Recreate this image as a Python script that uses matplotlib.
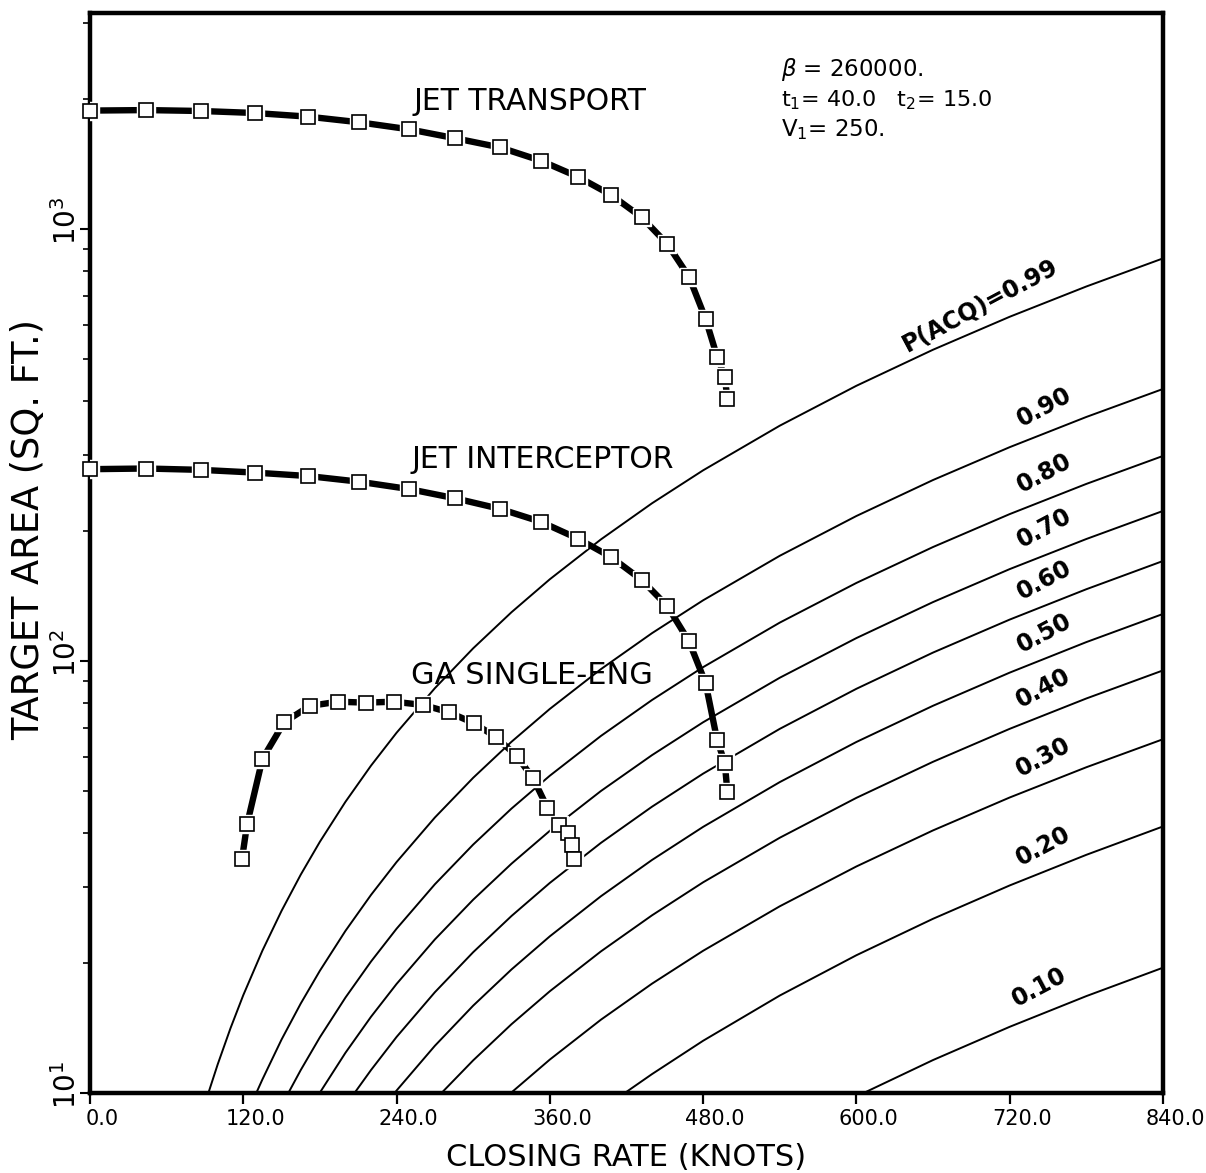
import matplotlib
matplotlib.use("Agg")
import matplotlib.pyplot as plt
from matplotlib.ticker import FixedLocator, NullFormatter
from matplotlib.transforms import offset_copy

plt.rcParams['font.family'] = ['DejaVu Sans']
plt.rcParams['mathtext.fontset'] = 'dejavusans'

# aircraft encounter geometries (closing rate, knots / target area, sq ft)
jet_rate = [0, 44, 87, 129, 171, 211, 250, 286, 321, 353, 382, 408, 432, 452, 469, 482, 491, 497, 499]
jet_transport_area = [1880, 1885, 1876, 1856, 1820, 1766, 1701, 1622, 1545, 1439,
                      1321, 1199, 1064, 923, 775, 619, 506, 455, 404]
jet_interceptor_area = [278, 279, 277, 273, 268, 260, 250, 238, 225, 210,
                        192, 174, 154, 134, 111, 88.8, 65.6, 58.0, 49.8]
ga_rate = [119, 123, 135, 152, 172, 194, 216, 238, 261, 281, 301, 318, 334, 347, 358, 367, 374, 377, 379]
ga_area = [34.8, 41.9, 59.3, 72.1, 78.7, 80.5, 80.1, 80.5, 79.1, 76.1,
           71.7, 66.6, 60.3, 53.5, 45.8, 41.7, 40.0, 37.5, 34.8]

# P(ACQ) contours: rate where area = 10, then area at each grid rate above it
rate_grid = [100, 110, 120, 135, 150, 165, 180, 200, 220, 240, 270, 300, 330, 360,
             400, 440, 480, 540, 600, 660, 720, 780, 840]
p_values = ['0.99', '0.90', '0.80', '0.70', '0.60', '0.50', '0.40', '0.30', '0.20', '0.10']
start_rate = [92.7, 130.2, 155.3, 179.8, 207.1, 238.5, 275.2, 329.5, 418.7, 605.7]
a99 = [11.65, 14.12, 16.84, 21.36, 26.41, 32.02, 38.16, 47.21, 57.24, 68.21, 86.50, 107.0,
       129.7, 154.6, 191.2, 231.8, 276.3, 350.5, 433.6, 525.5, 626.4, 736.1, 855]
a90 = [10.75, 13.30, 16.11, 19.19, 23.73, 28.74, 34.24, 43.42, 53.66, 65.02, 77.46, 95.75,
       116.0, 138.2, 175.2, 216.6, 262.4, 312.6, 367.2, 426.3]
a80 = [11.30, 13.46, 16.63, 20.15, 24.00, 30.42, 37.59, 45.54, 54.26, 67.07, 81.23, 96.78,
       122.7, 151.6, 183.6, 218.8, 257.0, 298.3]
a70 = [10.02, 12.39, 15.01, 17.88, 22.67, 28.02, 33.95, 40.45, 50.01, 60.55, 72.14, 91.46,
       113.0, 136.9, 163.2, 191.6, 222.5]
a60 = [11.30, 13.48, 17.11, 21.18, 25.69, 30.64, 37.93, 46.00, 54.86, 69.65, 86.23, 104.6,
       124.7, 146.6, 170.4]
a50 = [10.13, 12.86, 15.93, 19.32, 23.05, 28.54, 34.63, 41.31, 52.44, 64.95, 78.78, 93.99,
       110.6, 128.5]
a40 = [11.90, 14.43, 17.20, 21.27, 25.78, 30.74, 38.98, 48.22, 58.44, 69.66, 81.89, 95.1]
a30 = [10.03, 11.95, 14.78, 17.91, 21.34, 27.05, 33.45, 40.54, 48.31, 56.76, 65.9]
a20 = [11.06, 13.21, 16.81, 20.84, 25.31, 30.23, 35.59, 41.4]
a10 = [11.92, 14.23, 16.76, 19.5]
contour_areas = [a99, a90, a80, a70, a60, a50, a40, a30, a20, a10]

# where the P(ACQ) labels sit
label_rate = [697, 747, 747, 747, 747, 747, 746, 746, 746, 743]
label_area = [667, 388, 272, 203, 154, 116, 86.7, 60.0, 37.2, 17.6]

x_ticks = [0, 120, 240, 360, 480, 600, 720, 840]
x_ticklabels = ['0.0', '120.0', '240.0', '360.0', '480.0', '600.0', '720.0', '840.0']
y_ticks = [10, 100, 1000]
y_ticklabels = [r'$10^{1}$', r'$10^{2}$', r'$10^{3}$']

fig = plt.figure(figsize=(12.06, 11.73), dpi=100)
ax = fig.add_axes([0.0746, 0.0682, 0.8897, 0.9207])
ax.set_yscale('log')
ax.set_xlim(0, 840)
ax.set_ylim(10, 10 ** 3.5)

for s0, areas in zip(start_rate, contour_areas):
    xs = [s0] + [g for g in rate_grid if g > s0]
    ys = [10] + areas
    ax.plot(xs, ys, color='black', lw=1.4, zorder=2)

for i, (p, lx, ly) in enumerate(zip(p_values, label_rate, label_area)):
    txt = 'P(ACQ)=' + p if i == 0 else p
    ax.text(lx, ly, txt, rotation=28, ha='center', va='center', fontsize=17,
            fontweight='bold', rotation_mode='anchor', zorder=3)


def aircraft(x, y):
    ax.plot(x, y, color='black', lw=4.6, solid_capstyle='butt', zorder=4)
    ax.plot(x, y, ls='none', marker='s', ms=13.5, mfc='white', mec='white', zorder=5)
    ax.plot(x, y, ls='none', marker='s', ms=10, mfc='white', mec='black', mew=1.2,
            zorder=6, clip_on=False)


aircraft(jet_rate, jet_transport_area)
aircraft(jet_rate, jet_interceptor_area)
aircraft(ga_rate, ga_area)

ax.text(253, 1978, 'JET TRANSPORT', fontsize=21.5, va='center', ha='left', zorder=7)
ax.text(252, 292, 'JET INTERCEPTOR', fontsize=21.5, va='center', ha='left', zorder=7)
ax.text(251, 92.8, 'GA SINGLE-ENG', fontsize=22, va='center', ha='left', zorder=7)

ax.text(541, 2334, r'$\beta$ = 260000.', fontsize=16.5, va='center', ha='left')
ax.text(541, 1989, r't$_1$= 40.0   t$_2$= 15.0', fontsize=16, va='center', ha='left')
ax.text(541, 1695, r'V$_1$= 250.', fontsize=16.5, va='center', ha='left')

# axes styling
for sp in ax.spines.values():
    sp.set_linewidth(3.2)
ax.xaxis.set_major_locator(FixedLocator(x_ticks))
ax.yaxis.set_major_locator(FixedLocator(y_ticks))
minor = [m * d for d in (10, 100, 1000) for m in range(2, 10) if m * d < 10 ** 3.5]
ax.yaxis.set_minor_locator(FixedLocator(minor))
ax.yaxis.set_minor_formatter(NullFormatter())
ax.tick_params(axis='x', which='major', direction='out', length=8, width=1.6, labelbottom=False)
ax.tick_params(axis='y', which='major', direction='out', length=7, width=1.5, labelleft=False)
ax.tick_params(axis='y', which='minor', direction='out', length=5, width=1.2)
ax.tick_params(axis='x', which='minor', bottom=False)

# tick labels sit a little right of (x) and above (y) their ticks, as in the original
xlab_tr = offset_copy(ax.get_xaxis_transform(), fig=fig, x=12, y=-16, units='dots')
for v, s in zip(x_ticks, x_ticklabels):
    ax.text(v, 0, s, transform=xlab_tr, ha='center', va='top', fontsize=15, clip_on=False)
ylab_tr = offset_copy(ax.get_yaxis_transform(), fig=fig, x=-8, y=8, units='dots')
for v, s in zip(y_ticks, y_ticklabels):
    ax.text(0, v, s, transform=ylab_tr, ha='right', va='center', rotation=90,
            fontsize=20, clip_on=False)

ax.set_xlabel('CLOSING RATE (KNOTS)', fontsize=22)
ax.xaxis.set_label_coords(0.5, -0.046)
ax.set_ylabel('TARGET AREA (SQ. FT.)', fontsize=26.5)
ax.yaxis.set_label_coords(-0.040, 0.522)

fig.savefig('out.png', dpi=100, facecolor='white')
